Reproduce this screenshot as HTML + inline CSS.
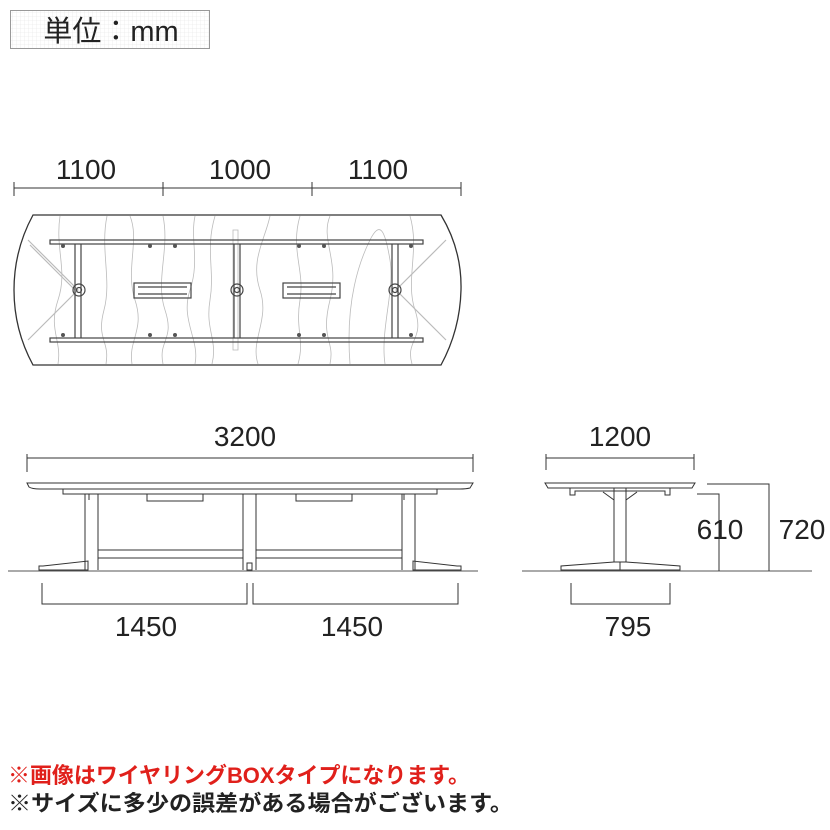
<!DOCTYPE html>
<html><head><meta charset="utf-8"><style>
body{margin:0;background:#fff;}
svg{display:block}
</style></head><body>
<svg width="830" height="830" viewBox="0 0 830 830" xmlns="http://www.w3.org/2000/svg" font-family="Liberation Sans, sans-serif">
<defs>
<pattern id="g" width="4" height="4" patternUnits="userSpaceOnUse"><path d="M4 0H0V4" fill="none" stroke="#e4e4e4" stroke-width="0.6"/></pattern>
</defs>
<rect x="10.5" y="10.5" width="199" height="38" fill="url(#g)" stroke="#999"/>
<text x="111" y="41" font-size="29" text-anchor="middle" fill="#222" font-family="Liberation Sans, Noto Sans CJK JP, sans-serif">単位：mm</text>

<g fill="none" stroke="#333" stroke-width="1">
<path d="M14 188H461M14 182V196M163 182V196M312 182V196M461 182V196"/>
<path d="M33 215H441Q462 250 461 290Q460 330 441 365H33Q14 330 14 290Q14 250 33 215Z" stroke-width="1.3"/>
</g>
<g fill="none" stroke="#bbb" stroke-width="0.8">
<path d="M60 216C55 250 68 270 58 300S62 340 58 364"/>
<path d="M107 216C100 250 112 280 104 310S110 340 106 364"/>
<path d="M130 216C140 240 125 270 135 300S128 340 132 364"/>
<path d="M163 216C170 250 155 280 165 310S158 340 163 364"/>
<path d="M195 216C190 240 200 260 190 290S200 340 195 364"/>
<path d="M215 216C205 250 215 270 210 300S218 340 212 364"/>
<path d="M270 216C265 240 250 260 260 290S250 340 258 364"/>
<path d="M300 216C290 250 305 270 300 300S305 340 298 364"/>
<path d="M330 216C320 240 340 260 330 300S335 340 330 364"/>
<path d="M350 364C345 300 360 260 370 240S385 230 390 260S380 330 385 364"/>
<path d="M410 216C420 250 405 280 415 310S405 340 412 364"/>
<path d="M28 240L78 290L28 340M30 245L75 290M446 240L396 290L446 340" stroke-width="1.2"/>
<rect x="233" y="230" width="5" height="120"/>
</g>
<g fill="none" stroke="#444" stroke-width="1.2">
<rect x="50" y="240" width="373" height="4"/>
<rect x="50" y="338" width="373" height="4"/>
<path d="M75 244V338M81 244V338M234 244V338M240 244V338M392 244V338M398 244V338"/>
<rect x="134" y="283" width="57" height="15"/><path d="M138 287H187M138 294H187"/>
<rect x="283" y="283" width="57" height="15"/><path d="M287 287H336M287 294H336"/>
<circle cx="79" cy="290" r="6"/><circle cx="79" cy="290" r="2.5"/>
<circle cx="237" cy="290" r="6"/><circle cx="237" cy="290" r="2.5"/>
<circle cx="395" cy="290" r="6"/><circle cx="395" cy="290" r="2.5"/>
</g>
<g fill="#555">
<circle cx="63" cy="246" r="2"/><circle cx="150" cy="246" r="2"/><circle cx="175" cy="246" r="2"/><circle cx="299" cy="246" r="2"/><circle cx="324" cy="246" r="2"/><circle cx="411" cy="246" r="2"/>
<circle cx="63" cy="335" r="2"/><circle cx="150" cy="335" r="2"/><circle cx="175" cy="335" r="2"/><circle cx="299" cy="335" r="2"/><circle cx="324" cy="335" r="2"/><circle cx="411" cy="335" r="2"/>
</g>

<g fill="#222" font-size="28" text-anchor="middle">
<text x="86" y="179">1100</text><text x="240" y="179">1000</text><text x="378" y="179">1100</text>
<text x="245" y="446">3200</text>
<text x="146" y="636">1450</text><text x="352" y="636">1450</text>
<text x="620" y="446">1200</text>
<text x="628" y="636">795</text>
<text x="720" y="539">610</text><text x="802" y="539">720</text>
</g>

<g fill="none" stroke="#333" stroke-width="1">
<path d="M27 458H473M27 454V472M473 454V472"/>
<path d="M27 483H473L470 488Q466 489 460 489H40Q32 489 29 487Z"/>
<path d="M63 489V494H437V489"/>
<rect x="147" y="494" width="56" height="7"/><rect x="296" y="494" width="56" height="7"/>
<path d="M85 494V570M98 494V570M243 494V570M256 494V570M402 494V570M415 494V570"/>
<path d="M89 494V500M404 494V500"/>
<path d="M98 550H243M98 558H243M256 550H402M256 558H402"/>
<path d="M39 566V570H88V561L43 566Z"/>
<path d="M461 566V570H413V561L457 566Z"/>
<rect x="247" y="563" width="5" height="7"/>
<path d="M8 571H478" stroke="#555"/>
<path d="M42 583V604H247V583M253 583V604H458V583"/>
<path d="M546 458H694M546 454V470M694 454V470"/>
<path d="M545 483H695L692 488H548Z"/>
<path d="M570 488V495H575V491H665V495H670V488"/>
<path d="M614 488V562M626 488V562M603 492L614 500M637 492L626 500"/>
<path d="M561 570V566L614 562H626L680 566V570Z"/>
<path d="M620 562V570"/>
<path d="M522 571H812" stroke="#555"/>
<path d="M697 494H719V571M707 484H769V571"/>
<path d="M571 583V604H670V583"/>
</g>

<g font-size="22" font-weight="bold" font-family="Liberation Sans, Noto Sans CJK JP, sans-serif">
<text x="8" y="783" fill="#e0201b" textLength="462" lengthAdjust="spacingAndGlyphs">※画像はワイヤリングBOXタイプになります。</text>
<text x="8" y="811" fill="#222" textLength="505" lengthAdjust="spacingAndGlyphs">※サイズに多少の誤差がある場合がございます。</text>
</g>
</svg>
</body></html>
